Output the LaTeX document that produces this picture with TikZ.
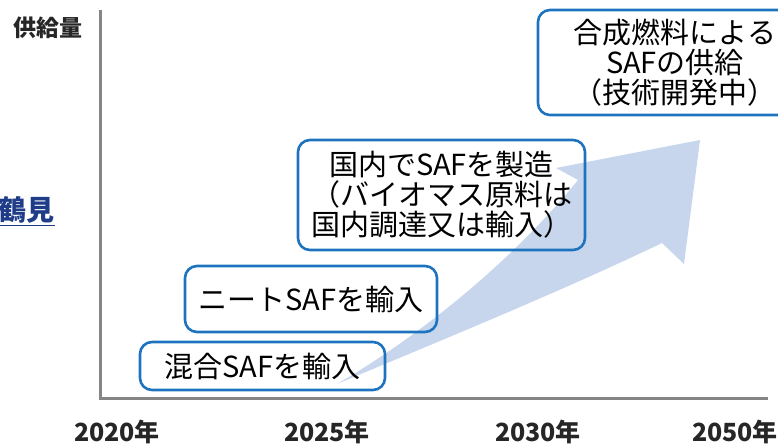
\documentclass[tikz,border=0pt]{standalone}
\usepackage{fontspec}
\setmainfont{Noto Sans CJK JP}
\definecolor{axisgray}{HTML}{858585}
\definecolor{boxblue}{HTML}{1E73BE}
\definecolor{arrowblue}{HTML}{8FADD9}
\definecolor{navy}{HTML}{1F3C88}
\begin{document}
\begin{tikzpicture}[x=1pt,y=-1pt,
  axis/.style={draw=axisgray,line width=3pt},
  sbox/.style={draw=boxblue,line width=2.6pt,rounded corners=12pt,align=center,inner sep=0pt,text=black,font=\fontsize{29}{30}\selectfont},
  yearlab/.style={font=\bfseries\fontsize{25}{27}\selectfont,text=black!85,inner sep=0pt},
  ]
\useasboundingbox (0,0) rectangle (778,447);
\clip (0,0) rectangle (778,447);
% axes
\coordinate (ytop) at (100,10);
\coordinate (origin) at (100,398);
\coordinate (xend) at (768,398);
\draw[axis] (ytop) -- (origin) -- (xend);
% labels
\node[font=\bfseries\fontsize{23}{25}\selectfont,text=black!85,inner sep=0pt] (supply) at (48,28) {供給量};
\node[anchor=east,font=\bfseries\fontsize{28}{30}\selectfont,text=navy,inner sep=0pt] (tsurumi) at (55,210) {鶴見};
\draw[navy,line width=1.4pt] ([yshift=-5pt]tsurumi.base west) -- ([yshift=-5pt]tsurumi.base east);
\node[yearlab] (y2020) at (117,432) {2020年};
\node[yearlab] (y2025) at (327,432) {2025年};
\node[yearlab] (y2030) at (538,432) {2030年};
\node[yearlab] (y2050) at (735,432) {2050年};
% big arrow
\coordinate (T) at (337,384);
\coordinate (SL) at (578,180);
\coordinate (LB) at (556,168);
\coordinate (tip) at (700,140);
\coordinate (RB) at (684,264);
\coordinate (SR) at (662,243);
\fill[arrowblue,opacity=0.5] (T) .. controls (430,330) and (520,252) .. (SL) -- (LB) -- (tip) -- (RB) -- (SR) .. controls (560,292) and (430,345) .. (T) -- cycle;
% boxes
\node[sbox,minimum width=245pt,minimum height=48pt] (b1) at (262.5,366) {混合SAFを輸入};
\node[sbox,minimum width=252pt,minimum height=66pt] (b2) at (311,299) {ニートSAFを輸入};
\node[sbox,minimum width=287pt,minimum height=110pt] (b3) at (441.5,195) {国内でSAFを製造\\（バイオマス原料は\\国内調達又は輸入）};
\node[sbox,minimum width=274pt,minimum height=105pt] (b4) at (675,62.5) {合成燃料による\\SAFの供給\\（技術開発中）};
\end{tikzpicture}
\end{document}
